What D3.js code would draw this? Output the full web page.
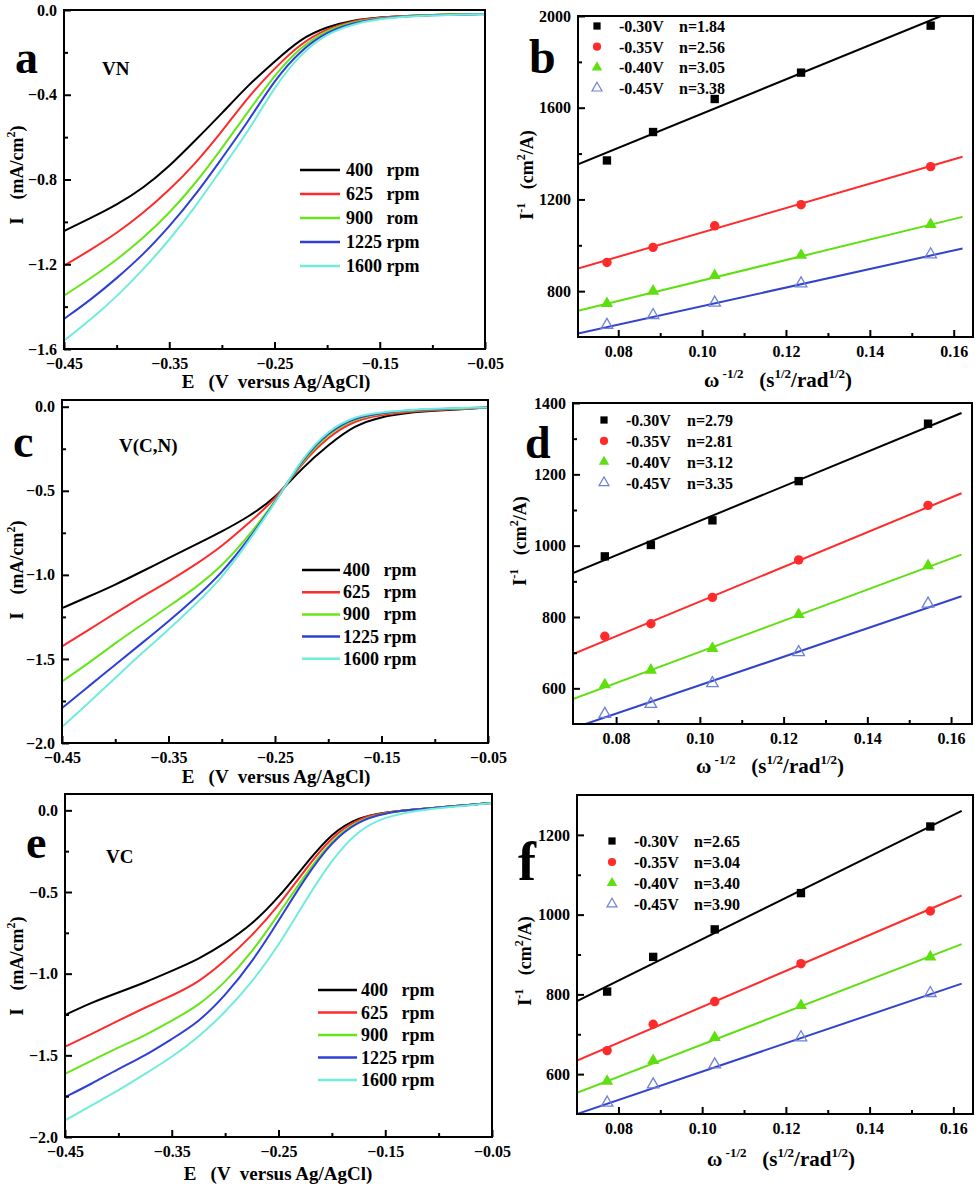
<!DOCTYPE html>
<html><head><meta charset="utf-8">
<script src="https://cdn.jsdelivr.net/npm/d3@7"></script>
<style>
body{margin:0;background:#fff;}
svg text{font-family:"Liberation Serif","Times New Roman",serif;font-weight:bold;fill:#000;white-space:pre;}
</style></head><body>
<svg id="chart" width="980" height="1186"></svg>
<script>
// ---------------- DATA ----------------
const E_GRID = [-0.45,-0.425,-0.40,-0.375,-0.35,-0.325,-0.30,-0.275,-0.25,-0.225,-0.20,-0.175,-0.15,-0.125,-0.10,-0.075,-0.05];
const RPM_LABELS_A = ["400   rpm","625   rpm","900   rom","1225 rpm","1600 rpm"];
const RPM_LABELS = ["400   rpm","625   rpm","900   rpm","1225 rpm","1600 rpm"];

const VN_400  = [-1.043,-0.983,-0.920,-0.842,-0.739,-0.614,-0.488,-0.354,-0.244,-0.134,-0.079,-0.047,-0.035,-0.028,-0.024,-0.020,-0.019];
const VN_625  = [-1.207,-1.133,-1.054,-0.960,-0.850,-0.724,-0.574,-0.410,-0.275,-0.157,-0.087,-0.050,-0.035,-0.028,-0.024,-0.020,-0.019];
const VN_900  = [-1.348,-1.267,-1.180,-1.078,-0.960,-0.818,-0.653,-0.480,-0.307,-0.173,-0.094,-0.055,-0.038,-0.028,-0.024,-0.020,-0.019];
const VN_1225 = [-1.458,-1.369,-1.267,-1.156,-1.023,-0.873,-0.700,-0.527,-0.330,-0.189,-0.102,-0.060,-0.039,-0.030,-0.025,-0.022,-0.020];
const VN_1600 = [-1.561,-1.463,-1.353,-1.227,-1.086,-0.928,-0.747,-0.574,-0.362,-0.205,-0.110,-0.066,-0.042,-0.031,-0.025,-0.022,-0.020];

const VCN_400  = [-1.198,-1.129,-1.059,-0.980,-0.901,-0.822,-0.743,-0.655,-0.545,-0.366,-0.228,-0.109,-0.059,-0.036,-0.024,-0.016,-0.004];
const VCN_625  = [-1.426,-1.327,-1.228,-1.129,-1.040,-0.941,-0.832,-0.693,-0.555,-0.337,-0.178,-0.079,-0.050,-0.030,-0.020,-0.014,-0.004];
const VCN_900  = [-1.634,-1.525,-1.406,-1.297,-1.188,-1.079,-0.950,-0.772,-0.565,-0.327,-0.158,-0.069,-0.040,-0.024,-0.016,-0.012,-0.004];
const VCN_1225 = [-1.792,-1.663,-1.535,-1.406,-1.277,-1.139,-0.990,-0.792,-0.570,-0.317,-0.149,-0.063,-0.036,-0.022,-0.014,-0.010,-0.004];
const VCN_1600 = [-1.905,-1.762,-1.614,-1.465,-1.327,-1.178,-1.020,-0.802,-0.575,-0.307,-0.139,-0.055,-0.032,-0.020,-0.012,-0.008,-0.004];

const VC_400  = [-1.253,-1.176,-1.115,-1.054,-0.983,-0.912,-0.815,-0.700,-0.535,-0.332,-0.138,-0.041,-0.012,0.004,0.018,0.031,0.045];
const VC_625  = [-1.447,-1.369,-1.288,-1.207,-1.135,-1.054,-0.922,-0.769,-0.586,-0.362,-0.159,-0.047,-0.012,0.004,0.018,0.031,0.045];
const VC_900  = [-1.613,-1.532,-1.451,-1.379,-1.288,-1.196,-1.054,-0.871,-0.637,-0.393,-0.179,-0.057,-0.016,0.004,0.018,0.031,0.045];
const VC_1225 = [-1.756,-1.674,-1.583,-1.502,-1.400,-1.298,-1.135,-0.932,-0.678,-0.413,-0.189,-0.063,-0.016,0.004,0.018,0.031,0.045];
const VC_1600 = [-1.898,-1.807,-1.715,-1.613,-1.512,-1.390,-1.237,-1.054,-0.830,-0.555,-0.301,-0.118,-0.041,-0.006,0.014,0.028,0.045];

const LSV_X_TICKS = [-0.45,-0.35,-0.25,-0.15,-0.05];
const LSV_X_MINOR = [-0.40,-0.30,-0.20,-0.10];
const A_Y_TICKS = [0,-0.4,-0.8,-1.2,-1.6];
const A_Y_MINOR = [-0.2,-0.6,-1.0,-1.4];
const CE_Y_TICKS = [0,-0.5,-1.0,-1.5,-2.0];
const CE_Y_MINOR = [-0.25,-0.75,-1.25,-1.75];

const OMEGA = [0.0773,0.0883,0.1030,0.1236,0.1545];
const POT_LABELS = ["-0.30V","-0.35V","-0.40V","-0.45V"];
const B_N = ["n=1.84","n=2.56","n=3.05","n=3.38"];
const D_N = ["n=2.79","n=2.81","n=3.12","n=3.35"];
const F_N = ["n=2.65","n=3.04","n=3.40","n=3.90"];

const B_030 = [1370,1494,1638,1753,1958];
const B_035 = [925,991,1085,1177,1343];
const B_040 = [746,800,868,957,1091];
const B_045 = [652,695,749,833,960];
const D_030 = [970,1002,1071,1181,1342];
const D_035 = [746,781,855,960,1113];
const D_040 = [610,651,712,807,944];
const D_045 = [528,556,614,701,837];
const F_030 = [807,894,963,1054,1221];
const F_035 = [659,725,782,877,1009];
const F_040 = [582,634,692,772,894];
const F_045 = [528,574,624,692,803];

const B_FIT_X = [[0.0704,0.157],[0.0704,0.1621],[0.0704,0.1621],[0.0704,0.1621]];
const B_FIT_Y = [[1353,2000],[899,1386],[714,1124],[615,986]];
const D_FIT_X = [[0.0697,0.1625],[0.0697,0.1625],[0.0697,0.1625],[0.0727,0.1625]];
const D_FIT_Y = [[923,1372],[696,1147],[570,975],[500,858]];
const F_FIT_X = [[0.0701,0.162],[0.0701,0.162],[0.0701,0.162],[0.0701,0.162]];
const F_FIT_Y = [[783,1260],[634,1048],[553,926],[500,827]];

const KL_X_TICKS = [0.08,0.10,0.12,0.14,0.16];
const KL_X_MINOR = [0.09,0.11,0.13,0.15];
const B_Y_TICKS = [800,1200,1600,2000];
const B_Y_MINOR = [1000,1400,1800];
const D_Y_TICKS = [600,800,1000,1200,1400];
const D_Y_MINOR = [700,900,1100,1300];
const F_Y_TICKS = [600,800,1000,1200];
const F_Y_MINOR = [700,900,1100];

// ---------------- STYLE ----------------
const RPM_COLORS = ["#000000","#ff2a2a","#66e619","#2f3fd6","#70ecdc"];
const KL_COLORS = ["#000000","#ff2a2a","#5ee010","#3344cc"];
const svg = d3.select("#chart");

function rich(g, parts, size, supSize){
  const t = g.append("text").attr("font-size", size);
  let prevSup = false;
  parts.forEach(p=>{
    const sp = t.append("tspan").text(p[0]);
    if(p[1]){ sp.attr("font-size", supSize).attr("dy", prevSup? 0 : -size*0.45); prevSup = true; }
    else { if(prevSup) sp.attr("dy", size*0.45); prevSup = false; }
  });
  return t;
}

let clipId = 0;
function frame(cfg, xs, ys, xt, xm, yt, ym, xf, yf){
  const g = svg.append("g");
  const bx = g.append("g").attr("transform",`translate(0,${cfg.b})`)
    .call(d3.axisBottom(xs).tickValues(xt).tickSize(-7).tickPadding(9).tickFormat(xf));
  const bxm = g.append("g").attr("transform",`translate(0,${cfg.b})`)
    .call(d3.axisBottom(xs).tickValues(xm).tickSize(-4).tickFormat(""));
  const ly = g.append("g").attr("transform",`translate(${cfg.l},0)`)
    .call(d3.axisLeft(ys).tickValues(yt).tickSize(-7).tickPadding(7).tickFormat(yf));
  const lym = g.append("g").attr("transform",`translate(${cfg.l},0)`)
    .call(d3.axisLeft(ys).tickValues(ym).tickSize(-4).tickFormat(""));
  [bx,bxm,ly,lym].forEach(a=>{
    a.select(".domain").remove();
    a.selectAll("line").attr("stroke","#000").attr("stroke-width",2);
    a.selectAll("text").attr("font-size",16).attr("font-family",null).attr("fill","#000");
  });
  g.append("rect").attr("x",cfg.l).attr("y",cfg.t).attr("width",cfg.r-cfg.l).attr("height",cfg.b-cfg.t)
    .attr("fill","none").attr("stroke","#000").attr("stroke-width",2);
  const id = "clip"+(clipId++);
  svg.append("clipPath").attr("id",id).append("rect")
    .attr("x",cfg.l).attr("y",cfg.t).attr("width",cfg.r-cfg.l).attr("height",cfg.b-cfg.t);
  return id;
}

function lsvPanel(cfg){
  const xs = d3.scaleLinear().domain([-0.45,-0.05]).range([cfg.l,cfg.r]);
  const ys = d3.scaleLinear().domain(cfg.yd).range([cfg.b,cfg.t]);
  const plot = svg.append("g");
  const id = frame(cfg, xs, ys, LSV_X_TICKS, LSV_X_MINOR, cfg.yt, cfg.ym, d3.format(".2f"), d3.format(".1f"));
  plot.attr("clip-path",`url(#${id})`);
  const line = d3.line().x((d,i)=>xs(E_GRID[i])).y(d=>ys(d)).curve(d3.curveBasis);
  cfg.series.forEach((s,i)=>{
    plot.append("path").datum(s).attr("d",line).attr("fill","none")
      .attr("stroke",RPM_COLORS[i]).attr("stroke-width",2);
  });
  // legend
  cfg.labels.forEach((lab,i)=>{
    const y = cfg.leg.y + i*cfg.leg.dy;
    svg.append("line").attr("x1",cfg.leg.x1).attr("x2",cfg.leg.x2).attr("y1",y).attr("y2",y)
      .attr("stroke",RPM_COLORS[i]).attr("stroke-width",2.5);
    svg.append("text").attr("x",cfg.leg.tx).attr("y",y+6).attr("font-size",18).text(lab);
  });
  // texts
  svg.append("text").attr("x",cfg.pl[0]).attr("y",cfg.pl[1]).attr("font-size",cfg.pl[2]).text(cfg.letter);
  svg.append("text").attr("x",cfg.nm[0]).attr("y",cfg.nm[1]).attr("font-size",19).text(cfg.name);
  rich(svg, [["I    (mA/cm"],["2",true],[")"]], 18, 12)
    .attr("text-anchor","middle").attr("transform",`translate(${cfg.yl[0]},${cfg.yl[1]}) rotate(-90)`);
  rich(svg, [["E   (V  versus Ag/AgCl)"]], 19, 12)
    .attr("text-anchor","middle").attr("x",cfg.xl[0]).attr("y",cfg.xl[1]);
}

function klPanel(cfg){
  const xs = d3.scaleLinear().domain(cfg.xd).range([cfg.l,cfg.r]);
  const ys = d3.scaleLinear().domain(cfg.yd).range([cfg.b,cfg.t]);
  const plot = svg.append("g");
  const id = frame(cfg, xs, ys, KL_X_TICKS, KL_X_MINOR, cfg.yt, cfg.ym, d3.format(".2f"), d3.format("d"));
  plot.attr("clip-path",`url(#${id})`);
  const line = d3.line().x(d=>xs(d[0])).y(d=>ys(d[1]));
  cfg.fx.forEach((fx,i)=>{
    plot.append("path").datum([[fx[0],cfg.fy[i][0]],[fx[1],cfg.fy[i][1]]]).attr("d",line)
      .attr("fill","none").attr("stroke",KL_COLORS[i]).attr("stroke-width",2);
  });
  const syms = [
    {type:d3.symbolSquare,size:70,fill:"#000",stroke:"none"},
    {type:d3.symbolCircle,size:70,fill:"#ff2a2a",stroke:"none"},
    {type:d3.symbolTriangle,size:64,fill:"#5ee010",stroke:"none"},
    {type:d3.symbolTriangle,size:58,fill:"none",stroke:"#7080dd"}
  ];
  cfg.series.forEach((s,i)=>{
    const sy = syms[i];
    svg.append("g").selectAll("path").data(s).join("path")
      .attr("transform",(d,j)=>`translate(${xs(OMEGA[j])},${ys(d)})`)
      .attr("d",d3.symbol().type(sy.type).size(sy.size)())
      .attr("fill",sy.fill).attr("stroke",sy.stroke).attr("stroke-width",1.3);
  });
  // legend
  POT_LABELS.forEach((lab,i)=>{
    const y = cfg.leg.y + i*cfg.leg.dy;
    const sy = syms[i];
    svg.append("path").attr("transform",`translate(${cfg.leg.mx},${y})`)
      .attr("d",d3.symbol().type(sy.type).size(sy.size*0.75)())
      .attr("fill",sy.fill).attr("stroke",sy.stroke).attr("stroke-width",1.2);
    svg.append("text").attr("x",cfg.leg.tx).attr("y",y+6).attr("font-size",16).text(lab);
    svg.append("text").attr("x",cfg.leg.nx).attr("y",y+6).attr("font-size",16).text(cfg.nlab[i]);
  });
  svg.append("text").attr("x",cfg.pl[0]).attr("y",cfg.pl[1]).attr("font-size",cfg.pl[2]).text(cfg.letter);
  rich(svg, [["I"],["-1",true],["   (cm"],["2",true],["/A)"]], 18, 12)
    .attr("text-anchor","middle").attr("transform",`translate(${cfg.yl[0]},${cfg.yl[1]}) rotate(-90)`);
  rich(svg, [["ω"],[" -1/2",true],["   (s"],["1/2",true],["/rad"],["1/2",true],[")"]], 21, 13)
    .attr("text-anchor","middle").attr("x",cfg.xl[0]).attr("y",cfg.xl[1]);
}

lsvPanel({l:64,r:485,t:10,b:349,yd:[-1.6,0],yt:A_Y_TICKS,ym:A_Y_MINOR,
  series:[VN_400,VN_625,VN_900,VN_1225,VN_1600],labels:RPM_LABELS_A,
  leg:{x1:300,x2:340,tx:346,y:170,dy:24},letter:"a",pl:[15,73,46],name:"VN",nm:[102,75],
  yl:[23,175],xl:[276,388]});
lsvPanel({l:62,r:488,t:400,b:743,yd:[-2.0,0.04],yt:CE_Y_TICKS,ym:CE_Y_MINOR,
  series:[VCN_400,VCN_625,VCN_900,VCN_1225,VCN_1600],labels:RPM_LABELS,
  leg:{x1:302,x2:340,tx:343,y:570,dy:22.2},letter:"c",pl:[13,457,46],name:"V(C,N)",nm:[119,452],
  yl:[23,570],xl:[276,783]});
lsvPanel({l:65,r:492,t:794,b:1137,yd:[-2.0,0.1],yt:CE_Y_TICKS,ym:CE_Y_MINOR,
  series:[VC_400,VC_625,VC_900,VC_1225,VC_1600],labels:RPM_LABELS,
  leg:{x1:318,x2:357,tx:361,y:990,dy:22.5},letter:"e",pl:[26,858,46],name:"VC",nm:[106,863],
  yl:[23,966],xl:[278,1180]});

klPanel({l:578,r:973,t:16,b:337,xd:[0.0704,0.1646],yd:[600,2000],yt:B_Y_TICKS,ym:B_Y_MINOR,
  series:[B_030,B_035,B_040,B_045],fx:B_FIT_X,fy:B_FIT_Y,nlab:B_N,
  leg:{mx:597,tx:619,nx:679,y:26,dy:20.7},letter:"b",pl:[529,73,48],yl:[533,175],xl:[778,387]});
klPanel({l:573,r:972,t:403,b:724,xd:[0.0697,0.165],yd:[500,1400],yt:D_Y_TICKS,ym:D_Y_MINOR,
  series:[D_030,D_035,D_040,D_045],fx:D_FIT_X,fy:D_FIT_Y,nlab:D_N,
  leg:{mx:604,tx:626,nx:687,y:420,dy:20.9},letter:"d",pl:[525,458,46],yl:[526,541],xl:[770,773]});
klPanel({l:577,r:973,t:795,b:1114,xd:[0.0701,0.1647],yd:[500,1300],yt:F_Y_TICKS,ym:F_Y_MINOR,
  series:[F_030,F_035,F_040,F_045],fx:F_FIT_X,fy:F_FIT_Y,nlab:F_N,
  leg:{mx:612,tx:634,nx:694,y:841,dy:21},letter:"f",pl:[518,880,54],yl:[531,961],xl:[781,1166]});
</script></body></html>
